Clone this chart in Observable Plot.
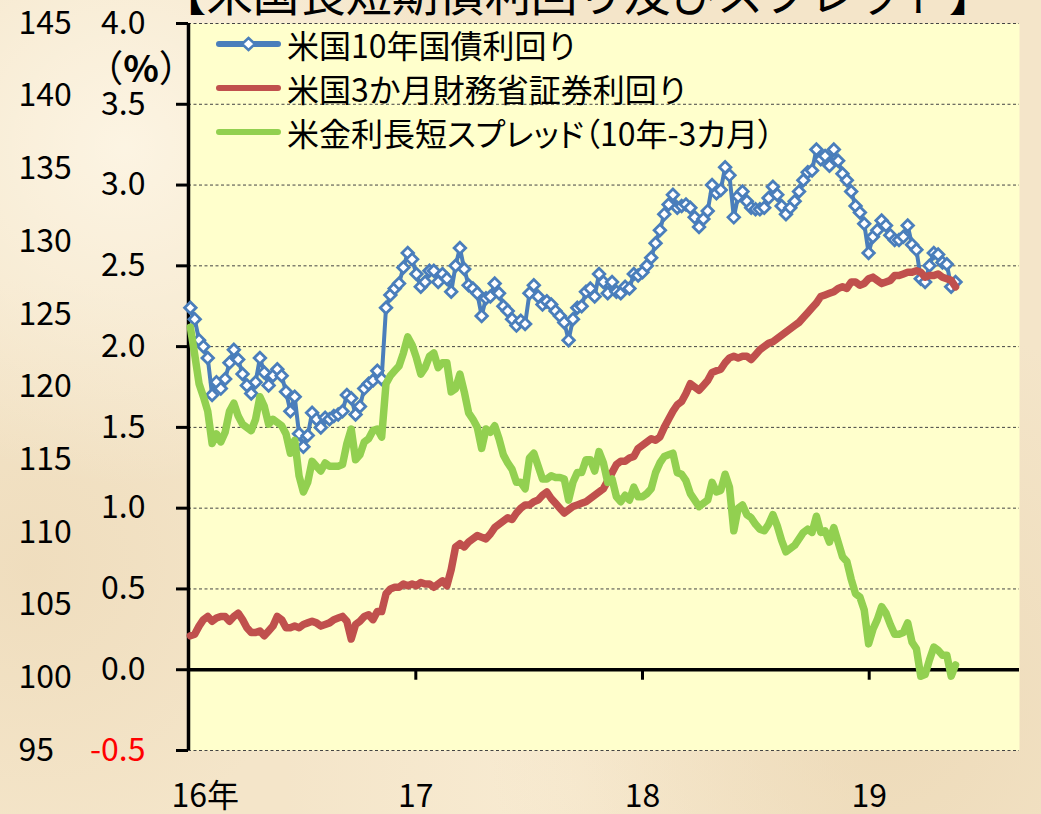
<!DOCTYPE html>
<html>
<head>
<meta charset="utf-8">
<script src="https://cdn.jsdelivr.net/npm/d3@7"></script>
<script src="https://cdn.jsdelivr.net/npm/@observablehq/plot@0.6"></script>
<style>
html, body { margin: 0; padding: 0; }
body {
  width: 1041px; height: 814px; overflow: hidden;
  font-family: "Noto Sans CJK JP", sans-serif;
  background-color: #F4E5C9;
  background-image:
    radial-gradient(circle at 12% 18%, rgba(255,249,235,0.75) 0, rgba(255,249,235,0) 30%),
    radial-gradient(circle at 85% 88%, rgba(232,210,172,0.55) 0, rgba(232,210,172,0) 35%),
    radial-gradient(circle at 55% 96%, rgba(250,238,214,0.7) 0, rgba(250,238,214,0) 30%),
    radial-gradient(circle at 3% 70%, rgba(236,216,182,0.6) 0, rgba(236,216,182,0) 25%);
}
#wrap { position: relative; width: 1041px; height: 814px; }
#wrap svg { position: absolute; left: 0; top: 0; }
#title { position: absolute; left: 160px; top: -32px; font-size: 46.4px; line-height: 1; white-space: nowrap; color: #000; }
#unit { position: absolute; left: 81px; top: 47px; width: 120px; text-align: center; font-size: 37px; line-height: 38px; color: #000; }
#legend { position: absolute; left: 216px; top: 22px; font-size: 32px; line-height: 44px; color: #000; }
.row { display: flex; align-items: center; height: 44px; white-space: nowrap; }
.row svg { position: static !important; margin-right: 6px; flex: none; }
</style>
</head>
<body>
<div id="wrap">
  <div id="title">【米国長短期債利回り及びスプレッド】</div>
  <div id="unit">（<b>%</b>）</div>
  <div id="legend"></div>
</div>
<script>
// ---- data (weekly readings, Jan 2016 - May 2019) ----
const y10_2016 = [2.24,2.17,2.04,2.00,1.93,1.70,1.78,1.74,1.80,1.90, 1.98,1.92,1.83,1.76,1.71,1.78,1.93,1.84,1.76,1.82, 1.86,1.82,1.72,1.60,1.69,1.46,1.38,1.45,1.59,1.55, 1.50,1.56,1.55,1.57,1.58,1.60,1.70,1.68,1.58,1.63, 1.74,1.77,1.79,1.85,1.80,2.24,2.32,2.36,2.39,2.49, 2.58,2.54];
const y10_2017 = [2.45,2.37,2.40,2.47,2.47,2.40,2.45,2.42,2.34,2.50, 2.61,2.48,2.38,2.36,2.33,2.19,2.30,2.31,2.39,2.33, 2.25,2.22,2.17,2.13,2.16,2.14,2.33,2.38,2.31,2.26, 2.28,2.26,2.22,2.19,2.15,2.04,2.17,2.24,2.25,2.34, 2.36,2.31,2.45,2.40,2.33,2.40,2.34,2.33,2.37,2.36, 2.45,2.44];
const y10_2018 = [2.46,2.50,2.55,2.64,2.72,2.82,2.88,2.94,2.86,2.87, 2.88,2.86,2.80,2.74,2.79,2.84,3.00,2.95,2.97,3.11, 3.06,2.80,2.93,2.96,2.90,2.86,2.85,2.85,2.86,2.92, 2.99,2.94,2.87,2.82,2.86,2.90,2.96,3.03,3.08,3.09, 3.22,3.16,3.18,3.12,3.22,3.15,3.07,3.03,2.96,2.87, 2.83,2.76];
const y10_2019 = [2.58,2.68,2.72,2.78,2.75,2.69,2.66,2.66,2.68,2.75, 2.63,2.60,2.42,2.40,2.50,2.58,2.57,2.52,2.51,2.37, 2.40];

const t3m_2016 = [0.21,0.22,0.27,0.31,0.33,0.30,0.32,0.33,0.33,0.30, 0.33,0.35,0.31,0.26,0.23,0.23,0.24,0.21,0.24,0.27, 0.33,0.31,0.26,0.26,0.27,0.26,0.28,0.29,0.30,0.29, 0.27,0.28,0.29,0.31,0.32,0.33,0.30,0.19,0.28,0.30, 0.33,0.34,0.31,0.36,0.36,0.47,0.50,0.51,0.51,0.53, 0.52,0.53];
const t3m_2017 = [0.52,0.54,0.53,0.53,0.51,0.53,0.55,0.52,0.62,0.76, 0.78,0.76,0.79,0.81,0.83,0.82,0.81,0.84,0.88,0.90, 0.92,0.94,0.93,0.97,1.00,1.02,1.02,1.04,1.05,1.08, 1.10,1.06,1.03,1.00,0.97,0.99,1.01,1.02,1.03,1.04, 1.06,1.08,1.10,1.12,1.17,1.22,1.27,1.29,1.29,1.31, 1.32,1.37];
const t3m_2018 = [1.39,1.41,1.43,1.42,1.44,1.50,1.55,1.60,1.64,1.66, 1.71,1.77,1.75,1.73,1.76,1.79,1.84,1.85,1.86,1.90, 1.93,1.94,1.93,1.94,1.94,1.92,1.95,1.98,2.00,2.02, 2.03,2.05,2.07,2.09,2.11,2.13,2.15,2.18,2.21,2.24, 2.27,2.31,2.32,2.33,2.34,2.36,2.37,2.36,2.40,2.40, 2.38,2.39];
const t3m_2019 = [2.42,2.43,2.41,2.39,2.40,2.41,2.44,2.44,2.45,2.46, 2.46,2.47,2.46,2.43,2.44,2.44,2.45,2.43,2.42,2.41, 2.37];

const spread_2016 = [2.12,1.95,1.77,1.69,1.60,1.40,1.46,1.41,1.47,1.60, 1.65,1.57,1.52,1.50,1.48,1.55,1.69,1.63,1.52,1.55, 1.53,1.51,1.46,1.34,1.42,1.20,1.10,1.16,1.29,1.26, 1.23,1.28,1.26,1.26,1.26,1.27,1.40,1.49,1.30,1.33, 1.41,1.43,1.48,1.49,1.44,1.77,1.82,1.85,1.88,1.96, 2.06,2.01];
const spread_2017 = [1.93,1.83,1.87,1.94,1.96,1.87,1.90,1.90,1.72,1.74, 1.83,1.72,1.59,1.55,1.50,1.37,1.49,1.47,1.51,1.43, 1.33,1.28,1.24,1.16,1.16,1.12,1.31,1.34,1.26,1.18, 1.18,1.20,1.19,1.19,1.18,1.05,1.16,1.22,1.22,1.30, 1.30,1.23,1.35,1.28,1.16,1.18,1.07,1.04,1.08,1.05, 1.13,1.07];
const spread_2018 = [1.07,1.09,1.12,1.22,1.28,1.32,1.33,1.34,1.22,1.21, 1.17,1.09,1.05,1.01,1.03,1.05,1.16,1.10,1.11,1.21, 1.13,0.86,1.00,1.02,0.96,0.94,0.90,0.87,0.86,0.90, 0.96,0.89,0.80,0.73,0.75,0.77,0.81,0.85,0.87,0.85, 0.95,0.85,0.86,0.79,0.88,0.79,0.70,0.67,0.56,0.47, 0.45,0.37];
const spread_2019 = [0.16,0.25,0.31,0.39,0.35,0.28,0.22,0.22,0.23,0.29, 0.17,0.13,-0.04,-0.03,0.06,0.14,0.12,0.09,0.09,-0.04, 0.03];

const yTicks = [-0.5, 0, 0.5, 1.0, 1.5, 2.0, 2.5, 3.0, 3.5, 4.0];
const outerTicks = [95, 100, 105, 110, 115, 120, 125, 130, 135, 140, 145];
const yearLabels = ["16年", "17", "18", "19"];
const yearStarts = ["2016-01-01", "2017-01-01", "2018-01-01", "2019-01-01"].map(s => new Date(s + "T00:00:00Z"));

const seriesNames = ["米国10年国債利回り", "米国3か月財務省証券利回り", "米金利長短スプレッド（10年-3カ月）"];
const blue = "#4A7EBB", red = "#C0504D", green = "#92D050";

// ---- build table ----
const y10 = [...y10_2016, ...y10_2017, ...y10_2018, ...y10_2019];
const t3m = [...t3m_2016, ...t3m_2017, ...t3m_2018, ...t3m_2019];
const spread = [...spread_2016, ...spread_2017, ...spread_2018, ...spread_2019];
const weeks = d3.utcMonday.range(new Date(Date.UTC(2016, 0, 4)), new Date(Date.UTC(2019, 4, 21)));
const data = weeks.map((d, i) => ({date: d, y10: y10[i], t3m: t3m[i], spread: spread[i]}));
const xLab = yearStarts.map((d, i) => ({date: d, label: yearLabels[i]}));

const font = "'Noto Sans CJK JP', sans-serif";

const chart = Plot.plot({
  width: 1041, height: 814,
  marginLeft: 188, marginRight: 22, marginTop: 23, marginBottom: 64,
  style: {background: "transparent", fontFamily: font, overflow: "visible"},
  x: {type: "utc", domain: [new Date(Date.UTC(2016, 0, 1)), new Date(Date.UTC(2019, 7, 31))], axis: null},
  y: {domain: [-0.5, 4]},
  marks: [
    Plot.frame({fill: "#FFFFCC", stroke: "none"}),
    Plot.gridY(yTicks, {stroke: "#444", strokeOpacity: 1, strokeWidth: 1, strokeDasharray: "3,2.5"}),
    Plot.ruleY([0], {stroke: "black", strokeWidth: 3.5}),
    Plot.ruleX(yearStarts.slice(1), {y1: 0, y2: -0.065, stroke: "black", strokeWidth: 3}),
    Plot.ruleX([yearStarts[0]], {stroke: "black", strokeWidth: 3.5}),
    Plot.axisY(yTicks, {tickSize: 12, strokeWidth: 3, tickFormat: () => "", label: null}),
    Plot.line(data, {x: "date", y: "y10", stroke: blue, strokeWidth: 4}),
    Plot.dot(data, {x: "date", y: "y10", symbol: "diamond2", r: 5.2, stroke: blue, strokeWidth: 2.8, fill: "white"}),
    Plot.line(data, {x: "date", y: "t3m", stroke: red, strokeWidth: 7.5, strokeLinejoin: "round", strokeLinecap: "round"}),
    Plot.line(data, {x: "date", y: "spread", stroke: green, strokeWidth: 7.5, strokeLinejoin: "round", strokeLinecap: "round"}),
    Plot.text(yTicks, {y: d => d, text: d => d.toFixed(1), frameAnchor: "left", textAnchor: "end", dx: -43,
      lineAnchor: "middle", fill: d => d < 0 ? "#FF0000" : "#000000", fontSize: 32, fontFamily: font}),
    Plot.text(outerTicks, {y: d => (d - 95) * 0.09 - 0.5, text: d => String(d), frameAnchor: "left", textAnchor: "start",
      dx: -170, lineAnchor: "middle", fill: "#000", fontSize: 32, fontFamily: font}),
    Plot.text(xLab.slice(0, 1), {x: "date", text: "label", frameAnchor: "bottom", textAnchor: "start", dx: -17,
      lineAnchor: "bottom", dy: 56, fill: "#000", fontSize: 32, fontFamily: font}),
    Plot.text(xLab.slice(1), {x: "date", text: "label", frameAnchor: "bottom", textAnchor: "middle",
      lineAnchor: "bottom", dy: 56, fill: "#000", fontSize: 32, fontFamily: font})
  ]
});
const wrap = document.getElementById("wrap");
wrap.insertBefore(chart, wrap.firstChild);

// ---- legend (inside plot area) ----
const legend = document.getElementById("legend");
const swatchColors = [blue, red, green];
seriesNames.forEach((name, i) => {
  const row = document.createElement("div");
  row.className = "row";
  const ns = "http://www.w3.org/2000/svg";
  const sw = document.createElementNS(ns, "svg");
  sw.setAttribute("width", 65); sw.setAttribute("height", 44);
  const ln = document.createElementNS(ns, "line");
  ln.setAttribute("x1", 3); ln.setAttribute("x2", 62); ln.setAttribute("y1", 22); ln.setAttribute("y2", 22);
  ln.setAttribute("stroke", swatchColors[i]); ln.setAttribute("stroke-width", 6); ln.setAttribute("stroke-linecap", "round");
  sw.appendChild(ln);
  if (i === 0) {
    const dm = document.createElementNS(ns, "path");
    dm.setAttribute("d", "M32.5,16L39,22L32.5,28L26,22Z");
    dm.setAttribute("fill", "white"); dm.setAttribute("stroke", blue); dm.setAttribute("stroke-width", 2.5);
    sw.appendChild(dm);
  }
  row.appendChild(sw);
  const tx = document.createElement("span");
  tx.textContent = name;
  if (i === 2) tx.style.fontFeatureSettings = '"palt" 1';
  row.appendChild(tx);
  legend.appendChild(row);
});
</script>
</body>
</html>
